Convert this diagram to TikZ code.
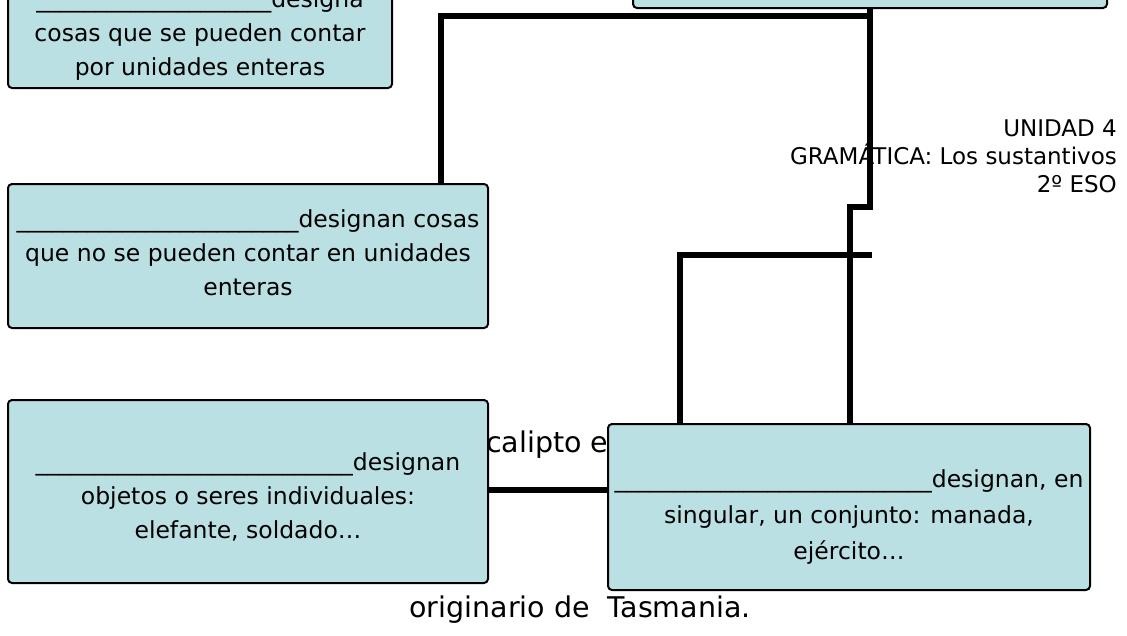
\documentclass[tikz,border=0pt]{standalone}
\usepackage{fontspec}
\setmainfont{DejaVu Sans}
\usetikzlibrary{backgrounds}
\definecolor{boxfill}{RGB}{187,224,228}
\tikzset{
  box/.style={draw=black, line width=2pt, fill=boxfill, rounded corners=4pt, inner sep=0pt},
  txt/.style={align=center, inner sep=0pt, font=\fontsize{23.5}{34}\selectfont},
  txtwide/.style={align=center, inner sep=0pt, font=\fontsize{23.5}{36}\selectfont},
  bigtxt/.style={inner sep=0pt, font=\fontsize{28.5}{34}\selectfont},
  hdr/.style={inner sep=0pt, font=\fontsize{23}{28}\selectfont},
  conn/.style={draw=black, line width=6pt, line join=miter, line cap=butt}
}
\begin{document}
\begin{tikzpicture}[x=1pt,y=-1pt]
\useasboundingbox (0,0) rectangle (1127,635);

% boxes
\node[box, minimum width=474pt, minimum height=76pt] (b0) at (870,-30) {};
\node[box, minimum width=384pt, minimum height=108pt] (b1) at (200,34) {};
\node[txt] (t1) at (200,35) {\_\_\_\_\_\_\_\_\_\_\_\_\_\_\_\_\_\_\_\_designa\\cosas que se pueden contar\\por unidades enteras};
\node[box, minimum width=480pt, minimum height=144pt] (b2) at (248,256) {};
\node[txt] (t2) at (248,253) {\_\_\_\_\_\_\_\_\_\_\_\_\_\_\_\_\_\_\_\_\_\_\_\_designan cosas\\que no se pueden contar en unidades\\enteras};
\node[box, minimum width=480pt, minimum height=183pt] (b4) at (248,491.5) {};
\node[txt] (t4) at (248,497) {\_\_\_\_\_\_\_\_\_\_\_\_\_\_\_\_\_\_\_\_\_\_\_\_\_\_\_designan\\objetos o seres individuales:\\elefante, soldado…};
\node[box, minimum width=482pt, minimum height=166pt] (b5) at (849,507) {};
\node[txtwide] (t5) at (849,517) {\_\_\_\_\_\_\_\_\_\_\_\_\_\_\_\_\_\_\_\_\_\_\_\_\_\_\_designan, en\\singular, un conjunto: manada,\\ejército…};

% header text
\node[hdr, anchor=base east] (h1) at (1117,136) {UNIDAD 4};
\node[hdr, anchor=base east] (h2) at (1117,164) {GRAMÁTICA: Los sustantivos};
\node[hdr, anchor=base east] (h3) at (1117,192) {2º ESO};

% coordinates for connector bends
\coordinate (c1) at (441,16);
\coordinate (j1) at (870,16);
\coordinate (jogA) at (870,207);
\coordinate (jogB) at (850,207);
\coordinate (hR) at (872,255);
\coordinate (hL) at (680,255);

\begin{pgfonlayer}{background}
\fill[white] (0,0) rectangle (1127,635);
\node[bigtxt, anchor=base west] (cal) at (486,452) {calipto e};
\node[bigtxt, anchor=base] (orig) at (580,617) {originario de\ \ Tasmania.};
\draw[conn] (b2.north -| c1) -- (c1) -- (j1);
\draw[conn] (b0.south) -- (jogA) -- (jogB) -- (b5.north -| jogB);
\draw[conn] (hR) -- (hL) -- (b5.north -| hL);
\draw[conn] (b4.east |- 0,490) -- (b5.west |- 0,490);
\end{pgfonlayer}
\end{tikzpicture}
\end{document}
